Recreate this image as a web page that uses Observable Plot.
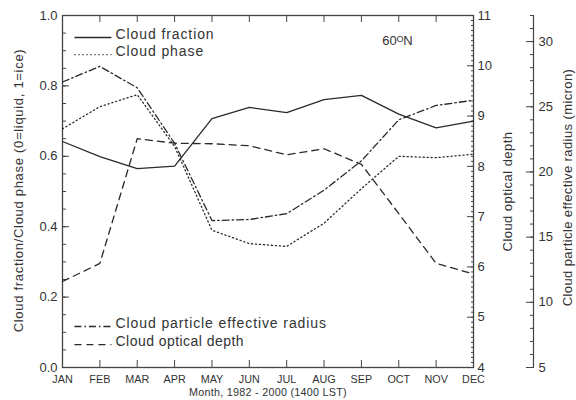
<!DOCTYPE html>
<html><head><meta charset="utf-8">
<script src="https://cdn.jsdelivr.net/npm/d3@7"></script>
<script src="https://cdn.jsdelivr.net/npm/@observablehq/plot@0.6"></script>
<style>
body{margin:0;background:#fff} #chart{width:576px;height:400px}
</style>
</head><body><div id="chart"></div>
<script>
// ---- data ----
const months = ["JAN","FEB","MAR","APR","MAY","JUN","JUL","AUG","SEP","OCT","NOV","DEC"];
const cloudFraction   = [0.642, 0.599, 0.565, 0.572, 0.707, 0.739, 0.724, 0.761, 0.773, 0.720, 0.681, 0.700];
const cloudPhase      = [0.678, 0.741, 0.775, 0.628, 0.390, 0.352, 0.344, 0.410, 0.508, 0.600, 0.596, 0.606];
const opticalDepth    = [5.71, 6.07, 8.55, 8.46, 8.45, 8.41, 8.23, 8.35, 8.04, 7.06, 6.07, 5.86];
const effectiveRadius = [26.9, 28.1, 26.45, 22.2, 16.27, 16.35, 16.8, 18.6, 20.85, 24.0, 25.1, 25.5];
const leftTicks   = [0, 0.2, 0.4, 0.6, 0.8, 1.0];
const depthTicks  = [4, 5, 6, 7, 8, 9, 10, 11];
const radiusTicks = [5, 10, 15, 20, 25, 30];
const depthDomain  = [4, 11];
const radiusDomain = [5, 32];
const seriesLabels = ["Cloud fraction", "Cloud phase", "Cloud particle effective radius", "Cloud optical depth"];
const leftTitle   = "Cloud fraction/Cloud phase (0=liquid, 1=ice)";
const depthTitle  = "Cloud optical depth";
const radiusTitle = "Cloud particle effective radius (micron)";
const xTitle      = "Month, 1982 - 2000 (1400 LST)";
const regionLabel = "60\u1D3CN";

// ---- helpers: map secondary axes onto the shared [0,1] y scale ----
const toDepth  = v => (v - depthDomain[0]) / (depthDomain[1] - depthDomain[0]);
const toRadius = v => (v - radiusDomain[0]) / (radiusDomain[1] - radiusDomain[0]);
const fromDepth  = t => t * (depthDomain[1] - depthDomain[0]) + depthDomain[0];
const fromRadius = t => t * (radiusDomain[1] - radiusDomain[0]) + radiusDomain[0];
const monthIdx = months.map((m, i) => i + 1);
const rows = (vals, f) => vals.map((v, i) => ({m: i + 1, v: f(v)}));
const id = v => v;

const leftMinor   = d3.range(0, 21).map(d => d / 20);
const depthMinor  = d3.range(40, 111).map(d => toDepth(d / 10));
const radiusMinor = d3.range(radiusDomain[0], radiusDomain[1] + 1).map(toRadius);

const ink = "#2a2a2a";
const txt = "#333";
const dash = {
  fraction: null,
  phase: "1.2,2.8",
  radius: "7,3,1.5,3",
  depth: "7,5"
};

// legend layout (x in month units, y in left-axis units)
const legX1 = 1.32, legX2 = 2.31, legTX = 2.42;
const legend = [
  {y: 0.9375, label: seriesLabels[0], d: dash.fraction},
  {y: 0.889,  label: seriesLabels[1], d: dash.phase},
  {y: 0.1165, label: seriesLabels[2], d: dash.radius},
  {y: 0.065,  label: seriesLabels[3], d: dash.depth}
];

const lineOpts = {x: "m", y: "v", stroke: ink, strokeWidth: 1.3};

const plot = Plot.plot({
  width: 576, height: 400,
  marginLeft: 62, marginRight: 103, marginTop: 15, marginBottom: 33,
  style: {fontFamily: "'Liberation Sans', Arial, Helvetica, sans-serif", color: txt, background: "#fff", overflow: "visible"},
  x: {domain: [1, 12]},
  y: {domain: [0, 1]},
  marks: [
    // x axes
    Plot.axisX(monthIdx, {anchor: "bottom", tickSize: -7, tickPadding: 15, tickFormat: i => months[i - 1], fontSize: 10.8, stroke: "#444", fill: txt, label: null}),
    Plot.axisX(monthIdx, {anchor: "top", tickSize: -6, tickFormat: () => "", stroke: "#444", label: null}),
    // left axis
    Plot.axisY(leftMinor, {anchor: "left", tickSize: -4, tickFormat: () => "", stroke: "#444", label: null}),
    Plot.axisY(leftTicks, {anchor: "left", tickSize: -7, tickPadding: 12, tickFormat: d3.format(".1f"), fontSize: 13, stroke: "#444", fill: txt, label: null}),
    // right axis: optical depth
    Plot.axisY(depthMinor, {anchor: "right", tickSize: -3, tickFormat: () => "", stroke: "#444", label: null}),
    Plot.axisY(depthTicks.map(toDepth), {anchor: "right", tickSize: -7, tickPadding: 11, tickFormat: t => String(Math.round(fromDepth(t))), fontSize: 13, stroke: "#444", fill: txt, label: null}),
    // far right axis: effective radius
    Plot.ruleX([monthIdx[monthIdx.length - 1]], {dx: 60, stroke: "#444", strokeWidth: 1.2}),
    Plot.axisY(radiusMinor, {anchor: "right", dx: 60, tickSize: -4, tickFormat: () => "", stroke: "#444", label: null}),
    Plot.axisY(radiusTicks.map(toRadius), {anchor: "right", dx: 60, tickSize: -8, tickPadding: 13, tickFormat: t => String(Math.round(fromRadius(t))), fontSize: 13, stroke: "#444", fill: txt, label: null}),
    Plot.frame({stroke: "#444", strokeWidth: 1.3}),
    // data lines
    Plot.line(rows(cloudFraction, id), {...lineOpts}),
    Plot.line(rows(cloudPhase, id), {...lineOpts, strokeDasharray: dash.phase}),
    Plot.line(rows(effectiveRadius, toRadius), {...lineOpts, strokeDasharray: dash.radius}),
    Plot.line(rows(opticalDepth, toDepth), {...lineOpts, strokeDasharray: dash.depth}),
    // legend
    ...legend.map(l => Plot.link([l], {x1: () => legX1, x2: () => legX2, y1: "y", y2: "y", stroke: ink, strokeWidth: 1.3, strokeDasharray: l.d})),
    Plot.text(legend, {x: () => legTX, y: "y", text: "label", dy: -3, fontSize: 14, fill: txt, textAnchor: "start"}),
    Plot.text([regionLabel], {frameAnchor: "top-right", dx: -76, dy: 20, fontSize: 13, fill: txt, textAnchor: "middle"}),
    // titles
    Plot.text([leftTitle], {frameAnchor: "left", dx: -44, dy: -1, rotate: -90, fontSize: 13, fill: txt, textAnchor: "middle"}),
    Plot.text([depthTitle], {frameAnchor: "right", dx: 34, rotate: -90, fontSize: 13, fill: txt, textAnchor: "middle"}),
    Plot.text([radiusTitle], {frameAnchor: "right", dx: 94, dy: -4, rotate: -90, fontSize: 13, fill: txt, textAnchor: "middle"}),
    Plot.text([xTitle], {frameAnchor: "bottom", dy: 21, lineAnchor: "top", fontSize: 10.8, fill: txt, textAnchor: "middle"})
  ]
});
document.getElementById("chart").appendChild(plot);

// letter spacing to mimic the wide original typeface
const spacing = new Map([
  [seriesLabels[0], 0.9], [seriesLabels[1], 0.9], [seriesLabels[2], 0.9], [seriesLabels[3], 0.9],
  [leftTitle, 0.7], [depthTitle, 0.45], [radiusTitle, 0.4], [xTitle, 0.25]
]);
d3.select(plot).selectAll("text").each(function() {
  const s = spacing.get(this.textContent);
  if (s != null) this.setAttribute("letter-spacing", s);
});
</script>
</body></html>
